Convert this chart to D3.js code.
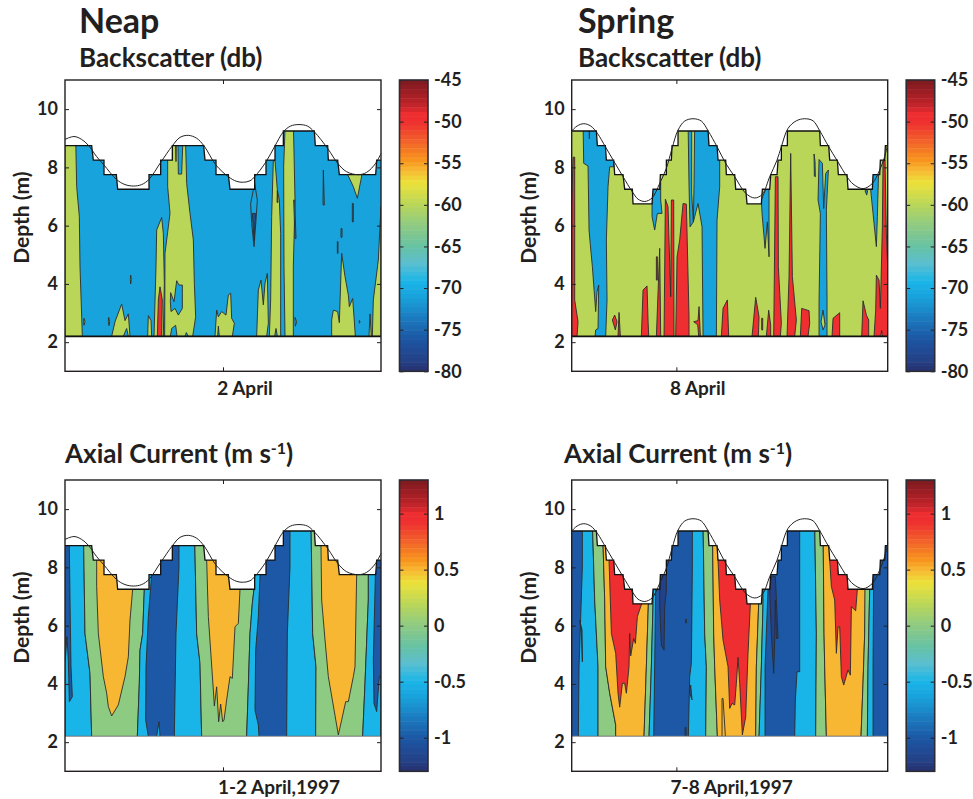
<!DOCTYPE html>
<html>
<head>
<meta charset="utf-8">
<script src="https://cdn.jsdelivr.net/npm/d3@7"></script>
<style>
  html, body { margin: 0; padding: 0; background: #fff; }
  text { font-family: Lato, "Open Sans", sans-serif; font-weight: 700; fill: #231f20; }
</style>
</head>
<body>
<div id="wrapper"></div>
<script>
/* global d3 */
// time is ADCP ensemble number along the record, depth in metres

const depthTicks = [2, 4, 6, 8, 10];
const backscatterTicks = [-80, -75, -70, -65, -60, -55, -50, -45];
const currentTicks = [-1, -0.5, 0, 0.5, 1];

// colour bar stops: [fraction from the top of the bar, colour]
const colorStops = [
  [0, '#7a1a1f'], [0.09, '#c4242b'], [0.115, '#ee2e30'], [0.143, '#ee2e30'], [0.2, '#f15a2c'],
  [0.275, '#f7941e'], [0.308, '#f8b733'], [0.355, '#ebe23a'], [0.4286, '#b9d659'], [0.5, '#8ecb82'],
  [0.575, '#66c2a5'], [0.63, '#5bbfd0'], [0.692, '#1ab5e8'], [0.743, '#19a3dc'], [0.885, '#1c58a5'],
  [0.96, '#234289'], [1, '#27306f'],
];

// water surface bins, [ensemble, depth]
const neapSteps = [[0, 8.75], [80, 8.75], [85, 8.25], [117, 8.25], [117, 7.75], [154, 7.75], [158, 7.25], [252, 7.25], [252, 7.75], [287, 7.75], [287, 8.25], [322, 8.25], [322, 8.75], [416, 8.75], [420, 8.25], [453, 8.25], [453, 7.75], [490, 7.75], [495, 7.25], [569, 7.25], [569, 7.75], [603, 7.75], [603, 8.25], [630, 8.25], [630, 8.75], [655, 8.75], [655, 9.25], [748, 9.25], [751, 8.75], [788, 8.75], [790, 8.25], [818, 8.25], [823, 7.75], [932, 7.75], [935, 8.25], [948, 8.25]];
const springSteps = [[0, 9.25], [74, 9.25], [77, 8.75], [101, 8.75], [104, 8.25], [126, 8.25], [129, 7.75], [154, 7.75], [159, 7.25], [182, 7.25], [184, 6.75], [241, 6.75], [244, 7.25], [264, 7.25], [266, 7.75], [284, 7.75], [284, 8.25], [299, 8.25], [301, 8.75], [319, 8.75], [319, 9.25], [409, 9.25], [412, 8.75], [436, 8.75], [439, 8.25], [462, 8.25], [464, 7.75], [489, 7.75], [492, 7.25], [522, 7.25], [526, 6.75], [569, 6.75], [572, 7.25], [594, 7.25], [597, 7.75], [616, 7.75], [619, 8.25], [629, 8.25], [629, 8.75], [647, 8.75], [647, 9.25], [744, 9.25], [746, 8.75], [771, 8.75], [774, 8.25], [797, 8.25], [800, 7.75], [826, 7.75], [829, 7.25], [902, 7.25], [904, 7.75], [924, 7.75], [926, 8.25], [939, 8.25], [941, 8.75], [948, 8.75]];

// sea surface height, [ensemble, depth]
const neapSurface = [[0, 8.96], [27, 9.06], [50, 8.96], [70, 8.76], [95, 8.37], [117, 8.08], [154, 7.59], [180, 7.41], [205, 7.36], [230, 7.41], [252, 7.59], [287, 8.17], [322, 8.74], [345, 9.03], [370, 9.1], [395, 9], [417, 8.74], [453, 8.08], [490, 7.68], [515, 7.52], [535, 7.49], [555, 7.54], [569, 7.68], [603, 8.19], [630, 8.74], [655, 9.22], [677, 9.42], [702, 9.47], [727, 9.42], [748, 9.22], [788, 8.65], [818, 8.14], [845, 7.85], [880, 7.75], [905, 7.83], [932, 8.14], [948, 8.48]];
const springSurface = [[0, 9.25], [16, 9.42], [36, 9.5], [57, 9.42], [77, 9.17], [101, 8.71], [126, 8.22], [154, 7.68], [182, 7.16], [199, 6.91], [219, 6.83], [241, 6.95], [264, 7.45], [284, 7.97], [301, 8.65], [319, 9.28], [339, 9.59], [364, 9.67], [389, 9.59], [409, 9.26], [436, 8.71], [462, 8.14], [489, 7.68], [522, 7.11], [549, 6.95], [572, 7.08], [594, 7.68], [616, 8.25], [629, 8.71], [649, 9.34], [674, 9.6], [699, 9.67], [724, 9.6], [744, 9.26], [771, 8.71], [797, 8.22], [826, 7.68], [844, 7.43], [874, 7.27], [902, 7.45], [924, 7.91], [939, 8.37], [948, 8.82]];

// filled contour patches, painted in order: [level, outline]
const neapBackscatter = [
  [-60, [[0, 9.6], [31, 9.6], [35, 7.34], [43, 6.31], [45, 4.59], [52, 2.2], [0, 2.2]]],
  [-60, [[57, 2.82], [60, 2.7], [57, 2.58], [56, 2.7]]],
  [-60, [[197, 4.3], [199, 4.15], [197, 4], [196, 4.15]]],
  [-60, [[131, 2.85], [134, 2.7], [132, 2.57], [130, 2.7]]],
  [-60, [[140, 2.2], [150, 2.7], [170, 3.31], [180, 2.74], [190, 2.97], [195, 2.2]]],
  [-71, [[175, 2.2], [185, 2.47], [190, 2.2]]],
  [-60, [[248, 2.2], [250, 2.91], [258, 2.74], [260, 2.2]]],
  [-60, [[267, 2.2], [273, 4.59], [275, 5.85], [290, 6.28], [295, 5.73], [298, 4.02], [295, 2.2]]],
  [-50, [[277, 2.2], [280, 3.45], [285, 3.9], [292, 3.45], [290, 2.2]]],
  [-60, [[308, 9.6], [360, 9.6], [365, 7.45], [375, 6.42], [385, 5.51], [388, 4.02], [392, 2.87], [383, 2.2], [299, 2.2], [300, 5.05], [310, 5.96], [315, 6.42], [308, 7.34]]],
  [-71, [[330, 9.6], [333, 8.2], [335, 9.6]]],
  [-71, [[338, 9.6], [340, 7.77], [350, 7.77], [356, 9.6]]],
  [-71, [[317, 3.7], [327, 3.39], [335, 4.11], [342, 3.96], [352, 3.96], [352, 3.16], [340, 2.93], [330, 3.16], [318, 3.05], [316, 3.39]]],
  [-71, [[316, 2.2], [320, 2.47], [332, 2.58], [336, 2.2]]],
  [-71, [[360, 2.2], [364, 2.33], [370, 2.2]]],
  [-71, [[569, 7.45], [577, 6.88], [573, 6.19], [567, 5.28], [560, 6.08], [557, 6.76]]],
  [-77, [[562, 6.42], [572, 6.42], [567, 5.5]]],
  [-60, [[625, 8.23], [630, 8.23], [637, 7.22], [643, 6.88], [647, 5.73], [647, 2.2], [613, 2.2], [617, 3.45], [620, 6.31]]],
  [-71, [[637, 7.2], [639, 6.8], [636, 6.8]]],
  [-71, [[629, 2.2], [633, 2.47], [637, 2.2]]],
  [-60, [[661, 9.6], [685, 9.6], [690, 6.88], [685, 4.59], [685, 2.2], [660, 2.2], [657, 4.59], [656, 8.02]]],
  [-71, [[686, 6.88], [690, 5.56], [693, 5.56], [689, 6.88]]],
  [-60, [[575, 2.2], [580, 3.79], [588, 4.13], [595, 3.28], [600, 4.02], [607, 4.36], [610, 2.65], [605, 2.2]]],
  [-60, [[450, 2.2], [455, 3.1], [460, 2.87], [470, 3.05], [483, 2.93], [490, 3.62], [497, 3.68], [500, 2.82], [508, 2.65], [502, 2.2]]],
  [-71, [[458, 2.2], [460, 2.55], [463, 2.2]]],
  [-60, [[800, 2.2], [800, 2.76], [805, 3.1], [818, 3.05], [823, 2.67], [830, 5.05], [840, 4.25], [850, 3.62], [853, 3.22], [863, 3.5], [867, 2.87], [871, 2.2]]],
  [-60, [[848, 9.6], [890, 9.6], [890, 7.7], [877, 6.94], [865, 7.34], [848, 7.75]]],
  [-60, [[948, 6.65], [940, 4.82], [925, 3.45], [922, 2.2], [948, 2.2]]],
  [-60, [[912, 2.2], [915, 2.97], [919, 2.2]]],
  [-71, [[775, 7.91], [778, 6.71], [774, 6.71]]],
  [-71, [[862, 6.76], [865, 6.76], [865, 6.13], [862, 6.13]]],
  [-71, [[828, 5.9], [831, 5.9], [831, 5.6], [828, 5.6]]],
  [-71, [[817, 5.45], [819, 5.45], [819, 5.05], [817, 5.05]]],
  [-60, [[690, 2.85], [695, 2.7], [691, 2.55]]],
  [-60, [[883, 2.75], [885, 2.7], [883, 2.65]]],
];

const springBackscatter = [
  [-71, [[34, 9.6], [76, 9.6], [102, 8.8], [126, 8.3], [126, 8.02], [114, 8.02], [109, 7.34], [104, 5.51], [106, 3.45], [102, 2.2], [70, 2.2], [72, 2.42], [79, 2.47], [81, 3.96], [76, 3.73], [72, 3.05], [62, 4.59], [56, 5.33], [52, 5.85], [49, 8.05], [36, 8.14]]],
  [-60, [[51, 9.6], [53, 8.98], [55, 9.6]]],
  [-71, [[241, 7], [241, 6.31], [249, 5.85], [257, 6.42], [271, 6.42], [267, 6.88], [267, 7.5], [244, 7.5]]],
  [-71, [[349, 9.6], [360, 9.6], [360, 7.11], [365, 6.13], [355, 5.96], [352, 7.34]]],
  [-71, [[369, 9.6], [409, 9.6], [412, 8.8], [436, 8.8], [444, 8.3], [444, 7.34], [436, 6.19], [434, 2.2], [394, 2.2], [391, 5.96], [379, 6.76], [369, 6.31], [365, 6.13], [367, 7.45]]],
  [-71, [[569, 6.9], [592, 7.5], [592, 4.93], [587, 6.13], [580, 5.22], [571, 6.42]]],
  [-71, [[742, 8.27], [752, 8.14], [756, 6.59], [762, 7.79], [770, 7.91], [764, 6.54], [766, 3.45], [766, 2.2], [742, 2.2], [742, 3.33], [746, 6.42], [739, 6.88]]],
  [-60, [[754, 3.1], [760, 2.59], [754, 2.42], [748, 2.7]]],
  [-71, [[727, 8.46], [730, 8.2], [731, 7.68], [728, 7.7]]],
  [-71, [[904, 8], [921, 8], [917, 6.31], [914, 5.28], [904, 6.42], [897, 7.22]]],
  [-71, [[880, 7.2], [888, 7.2], [885, 7.05]]],
  [-50, [[0, 6.65], [4, 8.35], [9, 8.35], [9, 3.45], [19, 2.7], [16, 2.2], [0, 2.2]]],
  [-50, [[209, 2.2], [214, 3.79], [226, 3.93], [229, 2.76], [231, 2.2]]],
  [-50, [[122, 2.76], [129, 2.93], [136, 2.7], [131, 2.42]]],
  [-50, [[139, 2.2], [142, 3.02], [146, 2.2]]],
  [-50, [[254, 2.2], [257, 3.1], [264, 5.22], [267, 2.2]]],
  [-50, [[254, 4.93], [257, 4.93], [257, 4.13], [254, 4.13]]],
  [-50, [[277, 2.2], [281, 6.91], [289, 6.65], [297, 3.56], [299, 6.88], [306, 6.88], [307, 2.2]]],
  [-50, [[312, 2.2], [316, 4.93], [324, 5.51], [334, 6.76], [344, 6.74], [352, 2.87], [352, 2.2]]],
  [-50, [[366, 2.7], [379, 2.74], [382, 3.22], [386, 2.2], [381, 2.2], [378, 2.6]]],
  [-50, [[449, 2.2], [454, 3.16], [467, 3.45], [471, 2.2]]],
  [-50, [[541, 2.2], [552, 3.54], [562, 2.87], [560, 2.2]]],
  [-50, [[570, 2.82], [573, 2.82], [573, 2.42], [570, 2.42]]],
  [-50, [[584, 2.2], [591, 3.1], [597, 2.58], [597, 2.2]]],
  [-50, [[606, 2.2], [611, 7.68], [619, 7.68], [620, 4.59], [629, 2.65], [626, 2.2]]],
  [-50, [[646, 2.2], [652, 4.25], [657, 8.48], [662, 4.25], [674, 2.76], [669, 2.2]]],
  [-50, [[686, 2.2], [690, 3.16], [712, 3.08], [714, 2.65], [709, 2.2]]],
  [-50, [[781, 2.2], [784, 2.82], [804, 3.01], [804, 2.2]]],
  [-50, [[870, 2.2], [874, 3.42], [884, 2.93], [891, 2.76], [891, 2.2]]],
  [-50, [[907, 2.2], [912, 3.1], [914, 4.3], [922, 4.13], [926, 3.16], [932, 5.96], [934, 8.25], [940, 8.25], [944, 5.73], [948, 4.59], [948, 2.2]]],
  [-60, [[927, 2.2], [930, 2.4], [932, 2.2]]],
];

const neapCurrent = [
  [-0.5, [[12, 9.6], [55, 9.6], [60, 5.73], [75, 4.36], [80, 2.2], [0, 2.2], [0, 4.7], [6, 5.62], [10, 4.82], [13, 3.39], [22, 3.56], [18, 4.59], [15, 6.88]]],
  [0, [[55, 9.6], [238, 9.6], [238, 7.25], [233, 5.73], [225, 5.16], [223, 4.02], [217, 2.2], [80, 2.2], [75, 4.36], [60, 5.73]]],
  [0.5, [[95, 9.6], [203, 9.6], [203, 7.25], [195, 6.19], [190, 4.93], [180, 4.25], [160, 3.28], [140, 2.9], [130, 3.22], [125, 3.68], [115, 4.25], [100, 5.73], [95, 7.34]]],
  [-0.5, [[238, 9.6], [260, 9.6], [260, 7.75], [250, 6.31], [243, 4.59], [242, 2.76], [250, 2.2], [217, 2.2], [223, 4.02], [225, 5.16], [233, 5.73], [238, 7.25]]],
  [-0.5, [[275, 2.2], [282, 2.7], [285, 2.2]]],
  [-0.5, [[342, 9.6], [388, 9.6], [395, 5.73], [405, 4.71], [410, 2.2], [328, 2.2], [333, 5.73], [342, 8.02]]],
  [0, [[388, 9.6], [567, 9.6], [567, 7.25], [562, 6.76], [555, 5.73], [550, 3.9], [545, 2.2], [410, 2.2], [405, 4.71], [395, 5.73]]],
  [0.5, [[425, 9.6], [525, 9.6], [525, 7.25], [520, 6.08], [510, 5.96], [502, 4.19], [495, 4.25], [485, 3.45], [477, 2.76], [473, 2.7], [467, 3.31], [461, 2.7], [455, 3.9], [448, 3.24], [445, 3.79], [430, 6.31], [425, 8.25]]],
  [-0.5, [[567, 9.6], [585, 9.6], [585, 7.75], [580, 6.31], [572, 5.16], [570, 3.1], [580, 2.59], [582, 2.2], [545, 2.2], [550, 3.9], [555, 5.73], [562, 6.76], [567, 7.25]]],
  [-0.5, [[675, 9.6], [738, 9.6], [743, 5.73], [753, 4.59], [752, 2.2], [665, 2.2], [667, 5.73], [675, 8.02]]],
  [0, [[738, 9.6], [910, 9.6], [910, 7.75], [910, 6.88], [900, 4.02], [893, 2.2], [752, 2.2], [753, 4.59], [743, 5.73]]],
  [0.5, [[767, 9.6], [875, 9.6], [875, 7.75], [870, 4.59], [865, 4.25], [850, 3.39], [842, 3.39], [830, 2.76], [820, 2.25], [790, 4.25], [780, 5.51], [770, 6.88]]],
  [-0.5, [[910, 9.6], [935, 9.6], [925, 4.82], [927, 3.33], [935, 3.05], [943, 4.25], [948, 4.2], [948, 2.2], [893, 2.2], [900, 4.02], [910, 6.88]]],
];

const springCurrent = [
  [-0.5, [[32, 9.6], [62, 9.6], [69, 6.88], [79, 4.59], [79, 2.2], [20, 2.2], [22, 4.59], [26, 5.96], [32, 8.02]]],
  [-1, [[24, 6.19], [31, 5.85], [32, 4.76], [29, 5.73]]],
  [0, [[62, 9.6], [92, 9.6], [99, 6.88], [102, 4.59], [114, 3.68], [132, 2.59], [132, 2.2], [79, 2.2], [79, 4.59], [69, 6.88]]],
  [0.5, [[92, 9.6], [230, 9.6], [230, 6.75], [224, 4.59], [217, 2.2], [132, 2.2], [132, 2.59], [114, 3.68], [102, 4.59], [99, 6.88]]],
  [1, [[112, 9.6], [210, 9.6], [210, 6.75], [197, 6.31], [191, 5.39], [186, 5.56], [177, 4.96], [174, 5.73], [172, 4.59], [164, 3.68], [159, 4.02], [152, 4.02], [144, 3.2], [139, 3.68], [132, 5.05], [119, 5.73], [112, 8.25]]],
  [0, [[230, 9.6], [244, 9.6], [244, 6.75], [239, 4.59], [232, 2.2], [217, 2.2], [224, 4.59], [230, 6.75]]],
  [-0.5, [[244, 9.6], [252, 9.6], [252, 7.25], [246, 2.2], [232, 2.2], [239, 4.59], [244, 6.75]]],
  [-1.2, [[264, 7.9], [284, 7.9], [284, 7.22], [279, 6.65], [277, 5.16], [269, 5.33], [264, 6.65]]],
  [-1, [[342, 6.22], [344, 6.22], [344, 6.1], [342, 6.1]]],
  [-1, [[340, 2.5], [343, 2.5], [343, 2.2], [340, 2.2]]],
  [-0.5, [[362, 9.6], [394, 9.6], [399, 5.73], [404, 4.59], [402, 2.2], [350, 2.2], [354, 4.25], [359, 4.71], [362, 8.02]]],
  [-1, [[357, 3.96], [361, 3.45], [354, 3.68]]],
  [0, [[394, 9.6], [422, 9.6], [426, 5.73], [429, 4.59], [437, 2.2], [402, 2.2], [404, 4.59], [399, 5.73]]],
  [0.5, [[422, 9.6], [561, 9.6], [561, 6.75], [554, 4.59], [552, 2.2], [437, 2.2], [429, 4.59], [426, 5.73]]],
  [1, [[439, 9.6], [536, 9.6], [536, 6.75], [529, 5.05], [522, 2.87], [512, 2.25], [504, 4.02], [499, 4.91], [494, 4.02], [489, 3.28], [481, 3.33], [474, 3.16], [469, 4.59], [454, 5.51], [444, 6.88], [439, 8.25]]],
  [0.5, [[451, 3.5], [454, 3.5], [461, 2.2], [451, 2.2]]],
  [0, [[561, 9.6], [574, 9.6], [574, 6.75], [569, 4.59], [562, 2.2], [552, 2.2], [554, 4.59], [561, 6.75]]],
  [-0.5, [[574, 9.6], [589, 9.6], [589, 7.25], [580, 4.59], [580, 2.2], [562, 2.2], [569, 4.59], [574, 6.75]]],
  [-1.2, [[594, 7.2], [599, 7.68], [611, 7.68], [619, 5.56], [614, 5.56], [611, 6.88], [609, 5.51], [606, 4.36], [599, 5.73]]],
  [-0.5, [[684, 9.6], [729, 9.6], [734, 5.73], [732, 2.2], [669, 2.2], [671, 3.45], [676, 4.42], [684, 4.42], [684, 8.02]]],
  [0, [[729, 9.6], [754, 9.6], [757, 5.73], [759, 4.59], [764, 2.2], [732, 2.2], [734, 5.73]]],
  [0.5, [[754, 9.6], [881, 9.6], [881, 7.25], [879, 5.73], [874, 4.02], [868, 2.2], [764, 2.2], [759, 4.59], [757, 5.73]]],
  [1, [[774, 9.6], [857, 9.6], [857, 7.25], [852, 6.51], [839, 6.65], [836, 4.3], [829, 4.48], [816, 3.96], [809, 4.25], [804, 5.96], [799, 5.96], [794, 5.05], [789, 6.88], [779, 7.34], [774, 8.25]]],
  [0, [[881, 9.6], [894, 9.6], [894, 7.25], [889, 4.59], [887, 2.2], [868, 2.2], [874, 4.02], [879, 5.73]]],
  [-0.5, [[894, 9.6], [907, 9.6], [904, 4.59], [904, 2.2], [887, 2.2], [889, 4.59], [894, 7.25]]],
];

/* CHART DIMENSIONS */
const dimensions = {
  width: 973,
  height: 799,
  plotWidth: 316,
  plotHeight: 291.3,
  barWidth: 28.5,
};
const inkColor = '#231f20';
const bottomDepth = 2.2;

const svg = d3
  .select('#wrapper')
  .append('svg')
  .attr('width', dimensions.width)
  .attr('height', dimensions.height)
  .style('display', 'block');

const stopFractions = colorStops.map(d => d[0]);
const stopColors = colorStops.map(d => d[1]);
const fractionToColor = d3.scaleLinear().domain(stopFractions).range(stopColors);

const xScale = d3.scaleLinear().domain([0, 948]).range([0, dimensions.plotWidth]);
const yScale = d3.scaleLinear().domain([1, 11]).range([dimensions.plotHeight, 0]);
const outline = d3.line().x(d => xScale(d[0])).y(d => yScale(d[1]));
const surfaceLine = d3.line().x(d => xScale(d[0])).y(d => yScale(d[1])).curve(d3.curveCatmullRom);

function innerTicks(axisGroup) {
  axisGroup.select('.domain').remove();
  axisGroup.selectAll('.tick line').attr('stroke', inkColor).attr('stroke-width', 1);
}

function drawPanel(p) {
  const bounds = svg.append('g').attr('transform', `translate(${p.left}, ${p.top})`);
  const barExtent = p.barDomain[1] - p.barDomain[0];
  const colorOf = v => fractionToColor((p.barDomain[1] - v) / barExtent);

  const waterColumn = [...p.steps, [948, bottomDepth], [0, bottomDepth]];
  const clipId = `clip-${p.left}-${p.top}`;
  bounds.append('clipPath').attr('id', clipId).append('path').attr('d', outline(waterColumn) + 'Z');

  const water = bounds.append('g').attr('clip-path', `url(#${clipId})`);
  water
    .append('path')
    .attr('d', outline(waterColumn) + 'Z')
    .attr('fill', colorOf(p.baseLevel));
  water
    .selectAll('path.patch')
    .data(p.patches)
    .join('path')
    .attr('class', 'patch')
    .attr('d', d => outline(d[1]) + 'Z')
    .attr('fill', d => colorOf(d[0]))
    .attr('stroke', '#2b2b2b')
    .attr('stroke-width', 0.9)
    .attr('stroke-linejoin', 'round');

  bounds
    .append('path')
    .attr('d', outline(p.steps))
    .attr('fill', 'none')
    .attr('stroke', '#111')
    .attr('stroke-width', 1.3);
  bounds
    .append('line')
    .attr('x1', 0)
    .attr('x2', dimensions.plotWidth)
    .attr('y1', yScale(bottomDepth))
    .attr('y2', yScale(bottomDepth))
    .attr('stroke', p.bottomColor)
    .attr('stroke-width', p.bottomWidth);
  bounds
    .append('path')
    .attr('d', surfaceLine(p.surface))
    .attr('fill', 'none')
    .attr('stroke', '#222')
    .attr('stroke-width', 1);

  /* PERIPHERALS */
  const yAxis = bounds
    .append('g')
    .call(d3.axisLeft(yScale).tickValues(depthTicks).tickSizeInner(-4).tickSizeOuter(0).tickPadding(7));
  innerTicks(yAxis);
  yAxis.selectAll('text').attr('font-size', 18).style('font-family', null);
  yAxis.attr('font-family', null);

  const yAxisRight = bounds
    .append('g')
    .attr('transform', `translate(${dimensions.plotWidth}, 0)`)
    .call(d3.axisRight(yScale).tickValues(depthTicks).tickSizeInner(-4).tickSizeOuter(0).tickFormat(''));
  innerTicks(yAxisRight);

  const xAxisBottom = bounds
    .append('g')
    .attr('transform', `translate(0, ${dimensions.plotHeight})`)
    .call(d3.axisBottom(xScale).tickValues([p.timeTick]).tickSizeInner(-4).tickSizeOuter(0).tickFormat(''));
  innerTicks(xAxisBottom);
  const xAxisTop = bounds
    .append('g')
    .call(d3.axisTop(xScale).tickValues([p.timeTick]).tickSizeInner(-4).tickSizeOuter(0).tickFormat(''));
  innerTicks(xAxisTop);

  bounds
    .append('rect')
    .attr('width', dimensions.plotWidth)
    .attr('height', dimensions.plotHeight)
    .attr('fill', 'none')
    .attr('stroke', inkColor)
    .attr('stroke-width', 1.4);

  bounds
    .append('text')
    .text('Depth (m)')
    .attr('transform', `translate(-36, ${dimensions.plotHeight / 2 - 8}) rotate(-90)`)
    .attr('text-anchor', 'middle')
    .attr('font-size', 21);

  bounds
    .append('text')
    .text(p.timeLabel)
    .attr('x', p.timeLabelX)
    .attr('y', p.timeLabelY)
    .attr('text-anchor', 'middle')
    .attr('font-size', 19);

  drawColorBar(bounds, p, barExtent);
}

function drawColorBar(bounds, p, barExtent) {
  const bar = bounds.append('g').attr('transform', `translate(${p.barLeft}, 0)`);
  const barScale = d3.scaleLinear().domain(p.barDomain).range([dimensions.plotHeight, 0]);
  const bandCount = 64;
  const bands = d3.range(bandCount);
  const bandHeight = dimensions.plotHeight / bandCount;

  bar
    .selectAll('rect.band')
    .data(bands)
    .join('rect')
    .attr('class', 'band')
    .attr('x', 0)
    .attr('y', d => d * bandHeight)
    .attr('width', dimensions.barWidth)
    .attr('height', bandHeight + 0.5)
    .attr('fill', d => fractionToColor((d + 0.5) / bandCount));

  const rightAxis = bar
    .append('g')
    .attr('transform', `translate(${dimensions.barWidth}, 0)`)
    .call(d3.axisRight(barScale).tickValues(p.barTicks).tickSizeInner(-4).tickSizeOuter(0).tickPadding(6).tickFormat(d => String(d)));
  innerTicks(rightAxis);
  rightAxis.selectAll('text').attr('font-size', 18);
  rightAxis.attr('font-family', null);

  const leftAxis = bar
    .append('g')
    .call(d3.axisLeft(barScale).tickValues(p.barTicks).tickSizeInner(-4).tickSizeOuter(0).tickFormat(''));
  innerTicks(leftAxis);

  bar
    .append('rect')
    .attr('width', dimensions.barWidth)
    .attr('height', dimensions.plotHeight)
    .attr('fill', 'none')
    .attr('stroke', '#2b2b33')
    .attr('stroke-width', 1.6);
}

/* DRAW DATA */
const backscatterRange = [-80, -45];
const currentRange = [-1.3, 1.3];

drawPanel({
  left: 65, top: 80, steps: neapSteps, surface: neapSurface, patches: neapBackscatter, baseLevel: -71,
  bottomColor: '#111', bottomWidth: 1.8, timeTick: 474, timeLabel: '2 April', timeLabelX: 180, timeLabelY: 315,
  barLeft: 334.5, barDomain: backscatterRange, barTicks: backscatterTicks,
});
drawPanel({
  left: 571.7, top: 80, steps: springSteps, surface: springSurface, patches: springBackscatter, baseLevel: -60,
  bottomColor: '#111', bottomWidth: 1.8, timeTick: 314, timeLabel: '8 April', timeLabelX: 126, timeLabelY: 315,
  barLeft: 334.5, barDomain: backscatterRange, barTicks: backscatterTicks,
});
drawPanel({
  left: 65, top: 480, steps: neapSteps, surface: neapSurface, patches: neapCurrent, baseLevel: -1,
  bottomColor: '#999', bottomWidth: 1, timeTick: 474, timeLabel: '1-2 April,1997', timeLabelX: 214, timeLabelY: 314,
  barLeft: 334.5, barDomain: currentRange, barTicks: currentTicks,
});
drawPanel({
  left: 571.7, top: 480, steps: springSteps, surface: springSurface, patches: springCurrent, baseLevel: -1,
  bottomColor: '#999', bottomWidth: 1, timeTick: 314, timeLabel: '7-8 April,1997', timeLabelX: 160, timeLabelY: 314,
  barLeft: 334.5, barDomain: currentRange, barTicks: currentTicks,
});

/* TITLES */
const headings = [
  { text: 'Neap', x: 79, y: 33, size: 34 },
  { text: 'Backscatter (db)', x: 79, y: 67, size: 26 },
  { text: 'Spring', x: 578, y: 33, size: 34 },
  { text: 'Backscatter (db)', x: 578, y: 67, size: 26 },
];
svg
  .selectAll('text.heading')
  .data(headings)
  .join('text')
  .attr('class', 'heading')
  .attr('x', d => d.x)
  .attr('y', d => d.y)
  .attr('font-size', d => d.size)
  .text(d => d.text);

[65, 564].forEach(x => {
  const title = svg.append('text').attr('x', x).attr('y', 463).attr('font-size', 26);
  title.append('tspan').text('Axial Current (m s');
  title.append('tspan').text('-1').attr('dy', -9).attr('font-size', 16);
  title.append('tspan').text(')').attr('dy', 9);
});
</script>
</body>
</html>
